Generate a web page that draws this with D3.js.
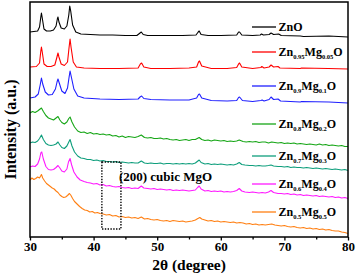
<!DOCTYPE html>
<html>
<head>
<meta charset="utf-8">
<script src="https://cdn.jsdelivr.net/npm/d3@7"></script>
<style>
  html, body { margin: 0; padding: 0; background: #ffffff; }
  svg { display: block; }
</style>
</head>
<body>
<svg id="chart"></svg>
<script>
// 2theta (degree) vs intensity (a.u.), traces are offset
var znO = [[30,205],[30.6,205.5],[31.2,206],[31.5,210],[31.7,220],[31.8,224],[31.95,218],[32.2,208],[32.6,206],[33.2,206],[33.7,207],[34.1,211],[34.3,218],[34.4,220],[34.55,215],[34.9,209],[35.4,208],[35.8,211],[36.1,222],[36.25,231],[36.4,226],[36.7,212],[37.2,205],[38,203],[39.5,202.5],[41,202],[43,202],[45,201.5],[46.8,201.5],[47.3,204],[47.5,205],[47.8,202.5],[48.5,201.5],[51,201.5],[54,201.5],[56.1,202],[56.45,205],[56.6,206],[56.9,202.5],[58,201.5],[60,201.5],[62.5,202],[62.8,205],[62.95,205],[63.3,202],[65,201.5],[66.2,202],[66.4,203],[66.7,202],[67.6,202.5],[67.9,204],[68.3,202.5],[69.1,203],[69.5,201.5],[72.5,201],[73,200.5],[77,201],[80,200]];

var mg005 = [[30,170],[31,170.5],[31.5,174],[31.7,186],[31.8,190],[31.95,184],[32.2,173],[32.7,170.5],[33.3,170.5],[33.9,172],[34.2,179],[34.4,184],[34.55,180],[34.9,173],[35.4,171.5],[35.9,175],[36.15,190],[36.3,198],[36.45,190],[36.8,175],[37.3,170],[38.5,169],[41,168.5],[44,168.5],[47,169],[47.35,173],[47.55,174],[47.9,170],[49,168.5],[52,168.5],[55,169],[56.2,170],[56.5,175],[56.65,176],[57,171],[58.5,168.5],[61,168.5],[62.5,169.5],[62.8,173],[62.95,174],[63.3,170],[65,168.5],[66.3,169.5],[66.45,170.5],[66.8,169],[67.6,170],[67.9,172],[68.3,170],[69,170.5],[69.3,169],[72.5,168.5],[72.7,169],[76.9,168.5],[80,168]];

var mg01 = [[30,139],[30.8,140],[31.3,143],[31.6,152],[31.8,159],[32,153],[32.4,145],[32.9,142],[33.5,142.5],[34,148],[34.25,155],[34.4,158],[34.6,154],[35,146],[35.5,143.5],[35.9,149],[36.15,160],[36.3,166],[36.5,160],[36.9,148],[37.5,141],[38.5,139],[41,138],[44,137.5],[47,138],[47.3,140],[47.55,141],[47.9,138.5],[49,137.5],[52,137],[55,137],[56.2,139],[56.5,142.5],[56.65,143],[57,139],[58.5,136.5],[61,136],[62.5,136.5],[62.8,139.5],[62.95,140],[63.4,136.5],[65,135.5],[66.3,136.5],[66.5,137],[66.8,136],[67.6,137.5],[67.9,140],[68.3,137.5],[69,138],[69.4,136],[72.5,135],[72.7,135.5],[77,135],[80,134]];

var mg02 = [[30,124],[30.4,125.5],[30.8,124.5],[31.2,126],[31.5,127.5],[31.8,129],[32.1,125.5],[32.5,121.5],[32.9,119],[33.3,118],[33.7,117],[34.1,119],[34.4,120.5],[34.7,117],[35,114.5],[35.4,113],[35.8,115],[36.1,118.5],[36.3,120],[36.6,115],[37,110],[37.5,106],[38,104.5],[38.5,105],[39,103.5],[39.5,104.5],[40,103],[40.5,103.5],[41,102.5],[41.5,103],[42,102],[42.5,102.5],[43,101],[43.5,101.5],[44,100],[44.5,101],[45,99.5],[45.5,100.5],[46,100],[46.5,99.5],[47,100.5],[47.5,102],[48,99.5],[48.5,99],[49,99.5],[49.5,98.5],[50,98.5],[50.5,99],[51,98],[51.5,98.5],[52,97.5],[52.5,97],[53,97.5],[53.5,96.5],[54,97],[54.5,97.5],[55,96.5],[55.5,97.5],[56,97.5],[56.6,99.5],[57,97.5],[57.5,96.5],[58,97],[58.5,96],[59,97],[59.5,96.5],[60,96],[60.5,96.5],[61,95.5],[61.5,96],[62,95.5],[62.5,96],[62.9,97],[63.5,95.5],[64,95],[64.5,95.5],[65,95],[65.5,95.5],[66,94.5],[66.5,95],[67,95],[67.5,94],[68,95],[68.5,94.5],[69,94],[69.5,94.5],[70,93.5],[70.5,94],[71,93.5],[71.5,94],[72,93],[72.5,93.5],[73,93],[73.5,92.5],[74,93],[74.5,92.5],[75,92],[75.5,93],[76,92],[76.5,92.5],[77,91.5],[77.5,92],[78,91.5],[78.5,91],[79,91.5],[79.5,90.5],[80,90.5]];

var mg03 = [[30,94],[30.4,95],[30.8,94.5],[31.2,96],[31.5,98.5],[31.8,102],[32.1,97.5],[32.5,93.5],[32.9,92],[33.3,91.5],[33.7,92],[34.1,93],[34.4,95],[34.7,92],[35,89.5],[35.4,88.5],[35.8,91],[36.1,95],[36.3,97.5],[36.6,91],[37,85],[37.5,81],[38,79],[38.5,78.5],[39,77.5],[39.5,77.5],[40,76.5],[40.5,77],[41,76],[41.5,76.5],[42,75.5],[42.5,75.5],[43,75],[43.5,75.5],[44,74.5],[44.5,75],[45,74.5],[45.5,74],[46,74.5],[46.5,74],[47,74],[47.5,76],[48,74],[48.5,73.5],[49,74],[49.5,73.5],[50,73.5],[50.5,74],[51,73],[51.5,73.5],[52,73.5],[52.5,73],[53,73.5],[53.5,73],[54,73.5],[54.5,73],[55,73.5],[55.5,73],[56,74],[56.4,76],[56.6,77],[56.9,74.5],[57.5,73],[58,73.5],[58.5,72.5],[59,73],[59.5,72.5],[60,73],[60.5,72.5],[61,72],[61.5,72.5],[62,72],[62.5,73],[62.9,74.5],[63.3,72.5],[63.8,72],[64.5,71.5],[65,71.5],[65.5,71],[66,71.5],[66.5,71],[67,71],[67.5,71.5],[67.9,72],[68.3,71],[69,70.5],[69.5,70.5],[70,70],[70.5,70.5],[71,69.5],[71.5,70],[72,69.5],[72.5,69.5],[73,69],[73.5,69.5],[74,69],[74.5,68.5],[75,69],[75.5,68.5],[76,68],[76.5,68.5],[77,68],[77.5,67.5],[78,68],[78.5,67.5],[79,67],[79.5,67.5],[80,66.5]];

var mg04 = [[30,70],[30.4,71],[30.8,70.5],[31.2,73],[31.5,78],[31.7,84],[31.85,85],[32.1,78],[32.5,70.5],[32.9,67.5],[33.3,67],[33.7,67.5],[34.1,69.5],[34.4,71.5],[34.7,69],[35,66],[35.4,65],[35.8,68],[36.05,75],[36.3,78.5],[36.55,72],[36.9,65],[37.4,60],[37.9,57],[38.5,55.5],[39,54.5],[39.5,54],[40,53],[40.5,53.5],[41,52],[41.5,52.5],[42,51],[42.5,51.5],[43,50.5],[43.5,50],[44,50.5],[44.5,49.5],[45,49],[45.5,49.5],[46,48.5],[46.5,49],[47,48.5],[47.5,51],[47.9,49],[48.5,48.5],[49,48],[49.5,48.5],[50,47.5],[50.5,48],[51,47.5],[51.5,47],[52,47.5],[52.5,46.5],[53,47],[53.5,46.5],[54,47],[54.5,46.5],[55,46],[55.5,46.5],[56,47],[56.35,49.5],[56.6,51],[56.9,48],[57.5,46],[58,46.5],[58.5,45.5],[59,46],[59.5,45.5],[60,46],[60.5,45],[61,45.5],[61.5,45],[62,45.5],[62.5,46.5],[62.9,48.5],[63.3,46],[63.8,45],[64.5,44.5],[65,45],[65.5,44.5],[66,44],[66.5,44.5],[67,44],[67.5,45],[67.9,46.5],[68.3,44.5],[69,43.5],[69.5,43.5],[70,43],[70.5,43.5],[71,42.5],[71.5,43],[72,42],[72.5,42.5],[73,41.5],[73.5,42],[74,41.5],[74.5,41],[75,41.5],[75.5,40.5],[76,41],[76.5,40.5],[77,40],[77.5,40.5],[78,39.5],[78.5,40],[79,39],[79.5,39.5],[80,38.5]];

var mg05 = [[30,57],[30.3,59],[30.6,57.5],[30.9,58.5],[31.2,60],[31.5,59],[31.8,62.5],[32,59],[32.3,56],[32.6,53.5],[32.9,52],[33.2,50.5],[33.5,49],[33.8,48],[34.1,46],[34.4,44.5],[34.7,42],[35,40.5],[35.3,39.5],[35.6,40],[35.9,41.5],[36.2,43.5],[36.4,42],[36.7,38.5],[37,35.5],[37.4,33],[37.8,30.5],[38.2,28.5],[38.6,27],[39,26.5],[39.4,25],[39.8,25.5],[40.2,24],[40.6,24.5],[41,23.5],[41.5,23],[42,22],[42.5,22.5],[43,21],[43.5,21.5],[44,20],[44.5,20.5],[45,19.5],[45.5,20],[46,19],[46.5,19.5],[47,18.5],[47.5,20],[48,18],[48.5,18.5],[49,17.5],[49.5,17],[50,17.5],[50.5,16.5],[51,16],[51.5,16.5],[52,15.5],[52.5,16.5],[53,16],[53.5,15.5],[54,16],[54.5,15],[55,15.5],[55.5,16],[56,17],[56.4,18.5],[56.7,19.5],[57,18],[57.5,17],[58,16],[58.5,16.5],[59,15.5],[59.5,16],[60,15],[60.5,15.5],[61,15],[61.5,14.5],[62,15],[62.5,14],[63,14.5],[63.5,14],[64,13],[64.5,13.5],[65,12.5],[65.5,13],[66,12],[66.5,12.5],[67,12],[67.5,12.5],[68,13],[68.5,12],[69,11.5],[69.5,11],[70,11.5],[70.5,10.5],[71,10],[71.5,10.5],[72,9.5],[72.5,9],[73,9.5],[73.5,8.5],[74,9],[74.5,8],[75,8.5],[75.5,7.5],[76,8],[76.5,7],[77,7.5],[77.5,6.5],[78,6],[78.5,6],[79,5],[79.5,4.5],[80,3.5]];

var series = [znO, mg005, mg01, mg02, mg03, mg04, mg05];

// legend labels: even items are normal text, odd items are subscripts
var legendLabels = [
  ["ZnO"],
  ["Zn", "0.95", "Mg", "0.05", "O"],
  ["Zn", "0.9", "Mg", "0.1", "O"],
  ["Zn", "0.8", "Mg", "0.2", "O"],
  ["Zn", "0.7", "Mg", "0.3", "O"],
  ["Zn", "0.6", "Mg", "0.4", "O"],
  ["Zn", "0.5", "Mg", "0.5", "O"]
];

var xMajorTicks = [30, 40, 50, 60, 70, 80];
var xMinorTicks = [35, 45, 55, 65, 75];

// (200) cubic MgO region, 2theta range and intensity range
var mgoBoxAngles = [41.3, 44.3];
var mgoBoxIntensity = [8, 75];
var mgoLabel = "(200) cubic MgO";

var xrdChartObj = {

  svg : null,
  x : null,
  y : null,

  colors : ["#000000", "#ff0000", "#1f1fff", "#16a616", "#0e9e7c", "#ff19ff", "#ff7f12"],

  layout : {
    width : 356,
    height : 273,
    left : 30,
    right : 348,
    top : 2,
    bottom : 237,
    font : "'Liberation Serif', 'Times New Roman', serif",
    // legend row centres (y pixel)
    legendRows : [27, 52, 86, 124, 156, 184, 212],
    legendX1 : 252,
    legendX2 : 276
  },

  init : function(id) {
    var that = this;
    var l = that.layout;

    that.svg = d3.select(id).attr("width", l.width).attr("height", l.height);
    that.x = d3.scaleLinear().domain([30, 80]).range([l.left, l.right]);
    that.y = d3.scaleLinear().domain([0, 235]).range([l.bottom, l.top]);
  },

  draw : function() {
    var that = this;
    that.drawTraces();
    that.drawBox();
    that.drawAxis();
    that.drawLegend();
    that.drawAnnotation();
  },

  drawTraces : function() {
    var that = this;
    var line = d3.line()
      .x(function(d) { return that.x(d[0]); })
      .y(function(d) { return that.y(d[1]); });

    that.svg.append("g").selectAll("path")
      .data(series)
      .enter().append("path")
      .attr("d", line)
      .attr("fill", "none")
      .attr("stroke", function(d, i) { return that.colors[i]; })
      .attr("stroke-width", 1.1)
      .attr("stroke-linejoin", "round");
  },

  drawBox : function() {
    var that = this;
    var l = that.layout;
    that.svg.append("rect")
      .attr("x", l.left).attr("y", l.top)
      .attr("width", l.right - l.left).attr("height", l.bottom - l.top)
      .attr("fill", "none").attr("stroke", "#000").attr("stroke-width", 1.5);
  },

  drawAxis : function() {
    var that = this;
    var l = that.layout;

    var major = that.svg.append("g")
      .attr("transform", "translate(0," + l.bottom + ")")
      .call(d3.axisBottom(that.x).tickValues(xMajorTicks).tickSize(3.5).tickPadding(1.5));
    major.select(".domain").remove();
    major.selectAll("line").attr("stroke-width", 1.3);
    major.selectAll("text")
      .attr("font-family", l.font).attr("font-size", "13px")
      .attr("font-weight", "bold").attr("fill", "#000");

    var minor = that.svg.append("g")
      .attr("transform", "translate(0," + l.bottom + ")")
      .call(d3.axisBottom(that.x).tickValues(xMinorTicks).tickSize(2.5).tickFormat(""));
    minor.select(".domain").remove();
    minor.selectAll("line").attr("stroke-width", 1.3);

    that.svg.append("text")
      .attr("x", (l.left + l.right) / 2).attr("y", 269.5)
      .attr("text-anchor", "middle")
      .attr("font-family", l.font).attr("font-size", "15.5px").attr("font-weight", "bold")
      .text("2\u03b8 (degree)");

    that.svg.append("text")
      .attr("transform", "translate(15.5," + ((l.top + l.bottom) / 2 + 10) + ") rotate(-90)")
      .attr("text-anchor", "middle")
      .attr("font-family", l.font).attr("font-size", "16px").attr("font-weight", "bold")
      .text("Intensity (a.u.)");
  },

  drawLegend : function() {
    var that = this;
    var l = that.layout;

    legendLabels.forEach(function(parts, i) {
      var cy = l.legendRows[i];
      that.svg.append("line")
        .attr("x1", l.legendX1).attr("x2", l.legendX2)
        .attr("y1", cy).attr("y2", cy)
        .attr("stroke", that.colors[i]).attr("stroke-width", 1.3);

      var text = that.svg.append("text")
        .attr("x", l.legendX2 + 2.5).attr("y", cy + 4)
        .attr("font-family", l.font).attr("font-size", "12px").attr("font-weight", "bold");

      parts.forEach(function(p, j) {
        var t = text.append("tspan").text(p);
        if (j % 2 == 1) {
          t.attr("font-size", "6.5px").attr("dy", 3);
        } else if (j > 0) {
          t.attr("dy", -3);
        }
      });
    });
  },

  drawAnnotation : function() {
    var that = this;
    var l = that.layout;

    var x0 = that.x(mgoBoxAngles[0]);
    var x1 = that.x(mgoBoxAngles[1]);
    var y0 = that.y(mgoBoxIntensity[1]);
    var y1 = that.y(mgoBoxIntensity[0]);

    that.svg.append("rect")
      .attr("x", x0).attr("y", y0)
      .attr("width", x1 - x0).attr("height", y1 - y0)
      .attr("fill", "none").attr("stroke", "#000")
      .attr("stroke-width", 1.4).attr("stroke-dasharray", "1.4,1.4");

    that.svg.append("text")
      .attr("x", x1 - 2).attr("y", 181)
      .attr("font-family", l.font).attr("font-size", "13px").attr("font-weight", "bold")
      .text(mgoLabel);
  }
};

xrdChartObj.init("#chart");
xrdChartObj.draw();
</script>
</body>
</html>
